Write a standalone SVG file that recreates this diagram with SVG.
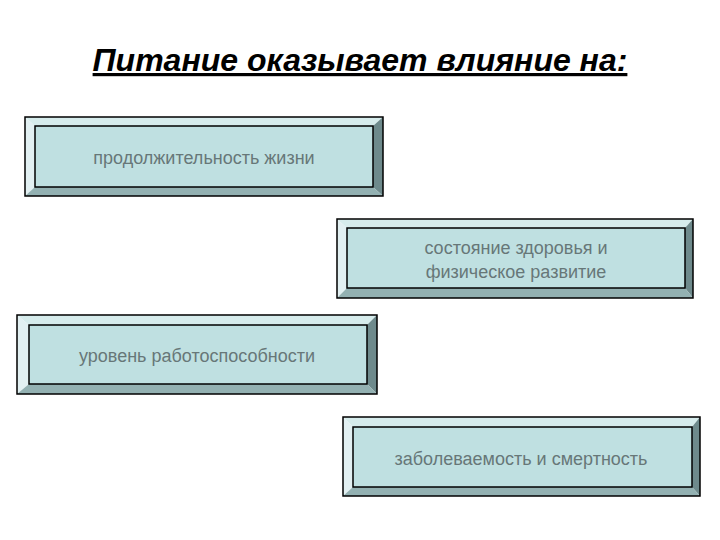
<svg xmlns="http://www.w3.org/2000/svg" width="720" height="540" viewBox="0 0 720 540">
<style>
.face{fill:#bfe0e1;stroke:#000;stroke-width:1.5}
.outer{fill:none;stroke:#000;stroke-width:1.5}
.top{fill:#d6ecec}
.left{fill:#e2f0f2}
.right{fill:#6e8a8c}
.bot{fill:#93b1b2}
.lbl{font-family:"Liberation Sans",Arial,sans-serif;font-size:18px;fill:#677778;text-anchor:middle}
.title{font-family:"Liberation Sans",Arial,sans-serif;font-size:32px;font-weight:bold;font-style:italic;fill:#000;text-decoration:underline}
</style>
<rect width="720" height="540" fill="#fff"/>
<text class="title" x="360" y="71" text-anchor="middle">Питание оказывает влияние на:</text>
<g id="node1">
<polygon class="top" points="25,117 383,117 373,126 35,126"/>
<polygon class="left" points="25,117 35,126 35,187 25,196"/>
<polygon class="right" points="383,117 383,196 373,187 373,126"/>
<polygon class="bot" points="25,196 383,196 373,187 35,187"/>
<rect class="outer" x="25" y="117" width="358" height="79"/>
<rect class="face" x="35" y="126" width="338" height="61"/>
<text class="lbl" x="204" y="164">продолжительность жизни</text>
</g>
<g id="node2">
<polygon class="top" points="337,219 693,219 685,228 347,228"/>
<polygon class="left" points="337,219 347,228 347,288 337,298"/>
<polygon class="right" points="693,219 693,298 685,288 685,228"/>
<polygon class="bot" points="337,298 693,298 685,288 347,288"/>
<rect class="outer" x="337" y="219" width="356" height="79"/>
<rect class="face" x="347" y="228" width="338" height="60"/>
<text class="lbl" x="516" y="254">состояние здоровья и</text>
<text class="lbl" x="516" y="278">физическое развитие</text>
</g>
<g id="node3">
<polygon class="top" points="17,315 377,315 367,325 29,325"/>
<polygon class="left" points="17,315 29,325 29,384 17,394"/>
<polygon class="right" points="377,315 377,394 367,384 367,325"/>
<polygon class="bot" points="17,394 377,394 367,384 29,384"/>
<rect class="outer" x="17" y="315" width="360" height="79"/>
<rect class="face" x="29" y="325" width="338" height="59"/>
<text class="lbl" x="197" y="362">уровень работоспособности</text>
</g>
<g id="node4">
<polygon class="top" points="343,417 700,417 692,427 353,427"/>
<polygon class="left" points="343,417 353,427 353,487 343,496"/>
<polygon class="right" points="700,417 700,496 692,487 692,427"/>
<polygon class="bot" points="343,496 700,496 692,487 353,487"/>
<rect class="outer" x="343" y="417" width="357" height="79"/>
<rect class="face" x="353" y="427" width="339" height="60"/>
<text class="lbl" x="521" y="465">заболеваемость и смертность</text>
</g>
<g id="connectors"></g>
</svg>
